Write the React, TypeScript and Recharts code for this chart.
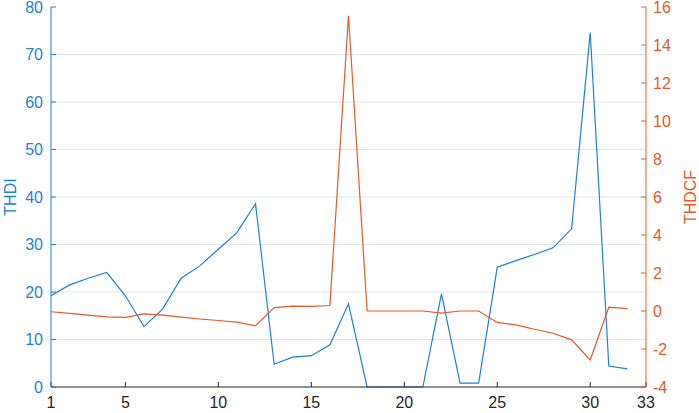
import React from 'react';
import { LineChart, Line, XAxis, YAxis, CartesianGrid } from 'recharts';

const samples = [1, 2, 3, 4, 5, 6, 7, 8, 9, 10, 11, 12, 13, 14, 15, 16, 17, 18, 19, 20, 21, 22, 23, 24, 25, 26, 27, 28, 29, 30, 31, 32];
const thdi = [19.2, 21.5, 22.9, 24.1, 19.2, 12.7, 16.4, 22.9, 25.5, 29.0, 32.5, 38.6, 4.8, 6.3, 6.6, 8.9, 17.5, 0, 0, 0, 0, 19.6, 0.8, 0.8, 25.2, 26.6, 27.9, 29.3, 33.3, 74.6, 4.4, 3.8];
const thdcf = [-0.04, -0.13, -0.22, -0.31, -0.34, -0.15, -0.22, -0.32, -0.42, -0.5, -0.59, -0.78, 0.18, 0.26, 0.24, 0.29, 15.54, 0, 0, 0, 0, -0.11, 0, 0, -0.6, -0.73, -0.96, -1.17, -1.52, -2.58, 0.2, 0.12];

const xTicks = [1, 5, 10, 15, 20, 25, 30, 33];
const leftTicks = [0, 10, 20, 30, 40, 50, 60, 70, 80];
const rightTicks = [-4, -2, 0, 2, 4, 6, 8, 10, 12, 14, 16];

const BLUE = '#1f82cc';
const ORANGE = '#e45a2a';
const DARK = '#262626';
const FONT = '"Liberation Sans", Arial, sans-serif';

const data = samples.map((x, i) => ({ x, thdi: thdi[i], thdcf: thdcf[i] }));

const axisLabel = (text: string, color: string, dx: number) => (props: any) => {
  const vb = props.viewBox || { x: 0, y: 0, width: 0, height: 0 };
  const cx = vb.x + dx;
  const cy = vb.y + vb.height / 2;
  return (
    <text
      x={cx}
      y={cy}
      fill={color}
      fontSize={16}
      fontFamily={FONT}
      textAnchor="middle"
      dominantBaseline="central"
      transform={`rotate(-90 ${cx} ${cy})`}
    >
      {text}
    </text>
  );
};

export default function App() {
  return (
    <div style={{ position: 'absolute', left: 0, top: 0, background: '#fff' }}>
      <LineChart width={699} height={413} data={data} margin={{ top: 7, right: 0, bottom: 0, left: 0 }}>
        <CartesianGrid yAxisId="left" vertical={false} stroke="#e3e3e3" horizontalValues={leftTicks.slice(1, -1)} />
        <XAxis
          dataKey="x"
          type="number"
          domain={[1, 33]}
          ticks={xTicks}
          height={26}
          tickSize={-5}
          tickMargin={15}
          stroke={DARK}
          tick={{ fill: DARK, fontSize: 16, fontFamily: FONT }}
          interval={0}
        />
        <XAxis
          xAxisId="top"
          orientation="top"
          dataKey="x"
          type="number"
          domain={[1, 33]}
          ticks={xTicks.slice(1, -1)}
          height={0}
          tickSize={-5}
          stroke={DARK}
          tick={() => null}
          interval={0}
        />
        <YAxis
          yAxisId="left"
          domain={[0, 80]}
          ticks={leftTicks}
          width={51}
          tickSize={-5}
          tickMargin={13}
          stroke={BLUE}
          tick={{ fill: BLUE, fontSize: 16, fontFamily: FONT }}
          interval={0}
          label={{ content: axisLabel('THDI', BLUE, 10) }}
        />
        <YAxis
          yAxisId="right"
          orientation="right"
          domain={[-4, 16]}
          ticks={rightTicks}
          width={53}
          tickSize={-5}
          tickMargin={12}
          stroke={ORANGE}
          tick={{ fill: ORANGE, fontSize: 16, fontFamily: FONT }}
          interval={0}
          label={{ content: axisLabel('THDCF', ORANGE, 44) }}
        />
        <Line yAxisId="left" type="linear" dataKey="thdi" stroke={BLUE} strokeWidth={1.2} dot={false} isAnimationActive={false} />
        <Line yAxisId="right" type="linear" dataKey="thdcf" stroke={ORANGE} strokeWidth={1.2} dot={false} isAnimationActive={false} />
      </LineChart>
    </div>
  );
}
